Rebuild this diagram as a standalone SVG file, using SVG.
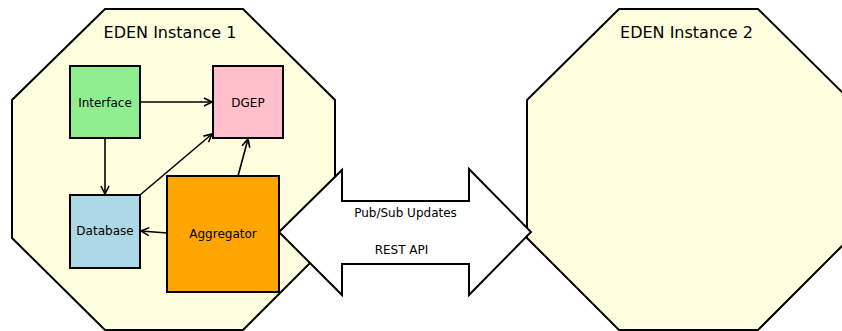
<svg xmlns="http://www.w3.org/2000/svg" width="842" height="331" viewBox="0 0 842 331">
<defs>
<style>
.oct{fill:#FFFFE0;stroke:#000;stroke-width:2;stroke-linejoin:miter}
.box{stroke:#000;stroke-width:2}
.t{font-family:"DejaVu Sans",sans-serif;fill:#000;text-anchor:middle}
.title{font-size:16px}
.lbl{font-size:12px}
.edge{stroke:#000;stroke-width:1.6;fill:none;marker-end:url(#ah)}
.big{fill:#fff;stroke:#000;stroke-width:2;stroke-linejoin:miter}
</style>
<marker id="ah" markerUnits="userSpaceOnUse" markerWidth="12" markerHeight="12" viewBox="-10 -6 12 12" refX="0" refY="0" orient="auto">
<path d="M-8,-4 L0,0 L-8,4" fill="none" stroke="#000" stroke-width="1.6"/>
</marker>
</defs>
<rect width="842" height="331" fill="#fff"/>
<g id="instance1">
<polygon class="oct" points="105,9 243,9 335,100 335,238 243,330 105,330 12,238 12,100"/>
<text class="t title" x="170" y="38">EDEN Instance 1</text>
</g>
<g id="instance2">
<polygon class="oct" points="619,9 758,9 850,100 850,238 758,330 619,330 527,238 527,100"/>
<text class="t title" x="686.5" y="38">EDEN Instance 2</text>
</g>
<g id="connectors">
<line class="edge" x1="140" y1="102" x2="212" y2="102"/>
<line class="edge" x1="105" y1="138" x2="105" y2="194"/>
<line class="edge" x1="140" y1="195" x2="212" y2="134"/>
<line class="edge" x1="238" y1="176" x2="248" y2="139"/>
<line class="edge" x1="167" y1="233" x2="141" y2="231"/>
</g>
<g id="interface">
<rect class="box" x="70" y="66" width="70" height="72" fill="#90EE90"/>
<text class="t lbl" x="105" y="107">Interface</text>
</g>
<g id="dgep">
<rect class="box" x="213" y="66" width="70" height="72" fill="#FFC0CB"/>
<text class="t lbl" x="248" y="107">DGEP</text>
</g>
<g id="database">
<rect class="box" x="70" y="195" width="70" height="73" fill="#ADD8E6"/>
<text class="t lbl" x="105" y="235">Database</text>
</g>
<g id="bridge">
<polygon class="big" points="279,232 342,170 342,201 469,201 469,169 531,232 469,295 469,264 342,264 342,295"/>
<text class="t lbl" x="405.5" y="217">Pub/Sub Updates</text>
<text class="t lbl" x="401.5" y="254">REST API</text>
</g>
<g id="aggregator">
<rect class="box" x="167" y="176" width="112" height="116" fill="#FFA500"/>
<text class="t lbl" x="223" y="238">Aggregator</text>
</g>
</svg>
